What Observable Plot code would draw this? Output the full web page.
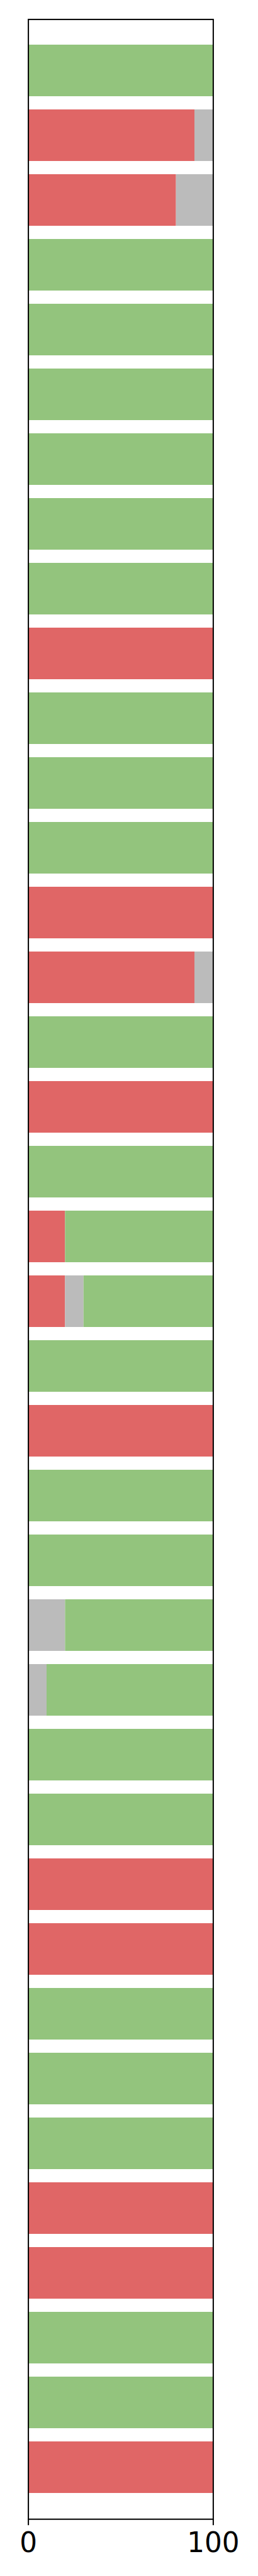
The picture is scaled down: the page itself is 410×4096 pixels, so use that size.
<!DOCTYPE html>
<html>
<head>
<meta charset="utf-8">
<script src="https://cdn.jsdelivr.net/npm/d3@7"></script>
<script src="https://cdn.jsdelivr.net/npm/@observablehq/plot@0.6"></script>
<style>
html, body { margin: 0; padding: 0; background: #fff; }
svg { display: block; }
</style>
</head>
<body>
<div id="chart"></div>
<script>
// Categories, top to bottom
const rows = ["1","2","3","4","5","6","7","8","9","10",
              "11","12","13","14","15","16","17","18","19","20",
              "21","22","23","24","25","26","27","28","29","30",
              "31","32","33","34","35","36","37","38"];

// Series names (stacking order, left to right)
const series = ["fail", "unknown", "pass"];
const seriesColors = ["#e06666", "#bbbbbb", "#93c47d"];

// Values (percent) per row
const failValues    = [0,90,80,0,0,0,0,0,0,100, 0,0,0,100,90,0,100,0,20,20, 0,100,0,0,0,0,0,0,100,100, 0,0,0,100,100,0,0,100];
const unknownValues = [0,10,20,0,0,0,0,0,0,0, 0,0,0,0,10,0,0,0,0,10, 0,0,0,0,20,10,0,0,0,0, 0,0,0,0,0,0,0,0];
const passValues    = [100,0,0,100,100,100,100,100,100,0, 100,100,100,0,0,100,0,100,80,70, 100,0,100,100,80,90,100,100,0,0, 100,100,100,0,0,100,100,0];

// X tick labels
const xTicks = [0, 100];

const valuesBySeries = { fail: failValues, unknown: unknownValues, pass: passValues };
const table = [];
rows.forEach((r, i) => {
  series.forEach(s => table.push({ row: r, series: s, value: valuesBySeries[s][i] }));
});

const chart = Plot.plot({
  width: 410,
  height: 4096,
  marginLeft: 44.6,
  marginRight: 71.6,
  marginTop: 30.4,
  marginBottom: 90.8,
  style: { fontFamily: "DejaVu Sans", fontSize: "43.7px", background: "white", overflow: "visible", color: "black" },
  x: { domain: [0, 100], axis: null },
  y: { domain: rows, paddingInner: 0.2, paddingOuter: 0.25, align: 0.5, axis: null },
  color: { type: "ordinal", domain: series, range: seriesColors },
  marks: [
    Plot.barX(table, Plot.stackX({ x: "value", y: "row", fill: { value: "series", scale: "color" } })),
    Plot.frame({ stroke: "black", strokeWidth: 2 }),
    Plot.axisX({
      ticks: xTicks,
      tickSize: 10,
      tickPadding: 11.3,
      strokeWidth: 2,
      fontSize: 43.7,
      tickFormat: d => String(d),
      label: null
    })
  ]
});

document.getElementById("chart").appendChild(chart);
</script>
</body>
</html>
